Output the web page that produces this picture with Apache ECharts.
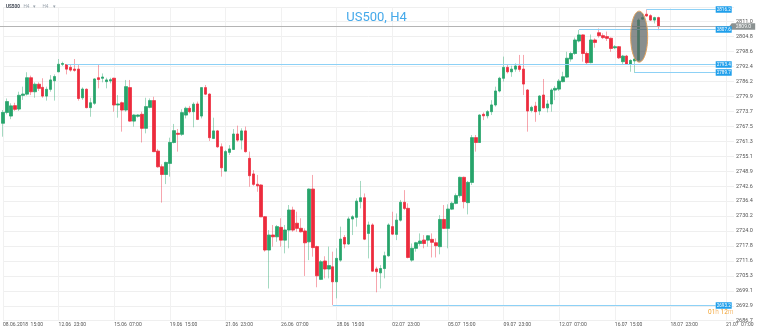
<!DOCTYPE html>
<html>
<head>
<meta charset="utf-8">
<script src="https://cdn.jsdelivr.net/npm/echarts@6/dist/echarts.min.js"></script>
<style>
  html, body { margin: 0; padding: 0; background: #ffffff; }
  #chart { width: 760px; height: 331px; }
</style>
</head>
<body>
<div id="chart"></div>
<script>
// US500, 4-hour candles
const symbol = 'US500';
const timeframe = 'H4';

// time labels, one every 14 bars
const xTickLabels = [
  '08.06.2018  15:00', '12.06  23:00', '15.06  07:00', '19.06  15:00',
  '21.06  23:00', '26.06  07:00', '28.06  15:00', '02.07  23:00',
  '05.07  15:00', '09.07  23:00', '12.07  07:00', '16.07  15:00',
  '18.07  23:00', '21.07  07:00'
];
const barsPerLabel = 14;
const slotCount = 185; // drawn bars plus empty future slots

// price scale labels, bottom to top
const yTickLabels = [
  '2686.7', '2692.9', '2699.1', '2705.3', '2711.6', '2717.8', '2724.0',
  '2730.2', '2736.4', '2742.6', '2748.9', '2755.1', '2761.3', '2767.5',
  '2773.7', '2779.9', '2786.2', '2792.4', '2798.6', '2804.8', '2811.0'
];
const priceMin = 2686.7;
const priceStep = 6.215;
const priceMax = 2817.0;

// [open, close, low, high]
const ohlc = [
  [2768.8, 2773.3, 2763.2, 2774.3], [2773.3, 2777.8, 2772.5, 2779.1],
  [2771.8, 2776.0, 2770.5, 2777.1], [2776.1, 2774.6, 2773.9, 2777.3],
  [2774.7, 2780.4, 2773.9, 2781.9], [2780.4, 2780.9, 2778.5, 2784.0],
  [2780.9, 2787.7, 2780.3, 2790.0], [2787.7, 2781.9, 2780.5, 2788.6],
  [2781.9, 2785.0, 2779.4, 2785.8], [2785.0, 2783.3, 2782.2, 2785.8],
  [2783.7, 2780.1, 2779.4, 2787.5], [2780.1, 2782.9, 2778.2, 2784.0],
  [2782.9, 2786.8, 2781.9, 2788.8], [2786.5, 2788.2, 2778.2, 2789.1],
  [2790.2, 2793.3, 2790.0, 2795.5], [2793.3, 2793.6, 2792.6, 2794.4],
  [2793.2, 2791.3, 2789.1, 2793.4], [2792.0, 2790.9, 2790.2, 2793.3],
  [2791.3, 2790.8, 2790.2, 2795.5], [2791.3, 2779.1, 2778.2, 2793.0],
  [2779.4, 2783.0, 2778.5, 2783.7], [2782.9, 2775.3, 2775.0, 2783.3],
  [2775.3, 2777.3, 2771.5, 2779.4], [2777.1, 2787.2, 2776.4, 2787.5],
  [2787.7, 2787.0, 2783.3, 2793.3], [2787.5, 2788.0, 2785.8, 2789.5],
  [2786.1, 2786.8, 2783.3, 2787.7], [2786.4, 2786.9, 2785.4, 2787.7],
  [2787.5, 2776.4, 2773.6, 2787.7], [2776.4, 2776.8, 2771.1, 2780.5],
  [2777.3, 2774.3, 2765.3, 2777.8], [2774.3, 2784.0, 2773.6, 2786.8],
  [2783.6, 2769.7, 2769.5, 2786.8], [2769.7, 2772.2, 2767.4, 2772.5],
  [2771.7, 2772.2, 2771.1, 2772.5], [2772.5, 2766.7, 2760.8, 2773.6],
  [2766.7, 2775.7, 2764.6, 2779.4], [2775.4, 2778.2, 2775.0, 2779.1],
  [2778.2, 2757.0, 2756.8, 2779.8], [2757.2, 2750.7, 2750.3, 2758.1],
  [2750.7, 2747.5, 2735.8, 2751.7], [2747.5, 2752.5, 2743.5, 2752.8],
  [2752.1, 2760.8, 2746.6, 2762.8], [2760.8, 2765.7, 2760.4, 2768.5],
  [2764.6, 2764.2, 2757.0, 2766.4], [2764.2, 2773.2, 2763.5, 2774.6],
  [2772.2, 2775.0, 2770.8, 2775.7], [2775.0, 2773.6, 2772.9, 2776.0],
  [2773.6, 2776.7, 2767.1, 2777.5], [2776.8, 2770.4, 2770.1, 2777.8],
  [2771.8, 2783.6, 2770.8, 2783.7], [2783.6, 2780.9, 2780.5, 2784.7],
  [2780.9, 2762.8, 2761.4, 2781.2], [2762.5, 2765.6, 2762.2, 2771.1],
  [2765.6, 2759.0, 2758.6, 2766.0], [2759.0, 2750.3, 2746.6, 2760.4],
  [2748.9, 2757.0, 2748.7, 2757.7], [2756.7, 2758.1, 2755.6, 2759.7],
  [2757.9, 2764.3, 2757.7, 2766.4], [2764.3, 2761.8, 2761.1, 2767.8],
  [2761.8, 2765.6, 2757.9, 2766.7], [2765.6, 2757.0, 2756.6, 2767.4],
  [2754.2, 2747.0, 2742.4, 2757.0], [2747.7, 2743.4, 2742.8, 2749.3],
  [2743.4, 2742.8, 2740.3, 2747.3], [2743.1, 2729.9, 2729.8, 2743.4],
  [2729.9, 2716.1, 2715.4, 2730.2], [2716.1, 2722.3, 2700.1, 2724.4],
  [2722.3, 2721.6, 2717.5, 2726.5], [2721.6, 2725.8, 2719.5, 2726.5],
  [2725.5, 2720.2, 2717.5, 2729.3], [2720.2, 2724.4, 2714.7, 2726.5],
  [2724.4, 2732.7, 2716.8, 2734.8], [2732.7, 2724.4, 2723.7, 2734.1],
  [2727.2, 2725.1, 2723.7, 2732.0], [2725.1, 2723.7, 2723.4, 2729.3],
  [2724.0, 2719.1, 2705.3, 2725.1], [2719.5, 2741.4, 2711.9, 2741.7],
  [2741.4, 2717.1, 2713.3, 2747.3], [2717.5, 2705.4, 2700.6, 2717.9],
  [2703.9, 2711.2, 2703.6, 2711.9], [2711.5, 2708.2, 2704.3, 2713.5],
  [2708.2, 2709.6, 2704.3, 2717.5], [2709.1, 2702.9, 2693.2, 2715.4],
  [2702.9, 2712.6, 2696.0, 2716.8], [2711.9, 2720.6, 2711.2, 2725.8],
  [2721.3, 2718.6, 2716.8, 2722.3], [2718.6, 2729.0, 2718.2, 2729.9],
  [2729.0, 2729.9, 2722.3, 2730.6], [2729.7, 2736.4, 2725.8, 2737.6],
  [2736.2, 2737.8, 2733.4, 2744.8], [2737.8, 2720.6, 2720.2, 2739.6],
  [2723.0, 2726.5, 2712.6, 2727.9], [2726.5, 2707.3, 2707.1, 2727.2],
  [2708.2, 2707.1, 2698.5, 2709.1], [2706.6, 2708.4, 2700.1, 2709.8],
  [2708.4, 2713.7, 2704.3, 2715.4], [2713.7, 2726.5, 2713.3, 2727.2],
  [2725.8, 2722.7, 2722.3, 2732.0], [2722.6, 2728.5, 2720.2, 2731.3],
  [2728.5, 2735.9, 2727.9, 2736.9], [2735.9, 2733.4, 2732.7, 2741.0],
  [2733.4, 2713.0, 2712.6, 2735.5], [2711.9, 2716.8, 2711.2, 2718.8],
  [2716.8, 2719.1, 2715.4, 2719.5], [2718.8, 2719.8, 2717.9, 2723.0],
  [2720.2, 2718.8, 2716.8, 2722.3], [2720.2, 2722.0, 2717.5, 2722.3],
  [2720.5, 2719.3, 2713.0, 2723.0], [2719.1, 2717.9, 2713.0, 2720.9],
  [2717.5, 2728.8, 2714.3, 2730.6], [2728.8, 2725.1, 2724.8, 2734.8],
  [2725.1, 2733.1, 2716.8, 2735.1], [2733.1, 2735.5, 2732.7, 2736.2],
  [2735.5, 2738.7, 2735.1, 2739.6], [2738.7, 2746.3, 2737.8, 2746.6],
  [2746.3, 2736.2, 2733.4, 2746.6], [2735.8, 2744.2, 2730.9, 2744.8],
  [2744.2, 2762.8, 2743.1, 2763.9], [2762.8, 2760.8, 2757.0, 2763.9],
  [2760.8, 2772.2, 2760.6, 2772.5], [2772.5, 2771.9, 2770.1, 2773.3],
  [2771.9, 2773.6, 2770.8, 2774.3], [2773.6, 2776.4, 2772.2, 2778.4],
  [2776.4, 2782.2, 2775.7, 2784.0], [2782.2, 2787.5, 2781.6, 2788.1],
  [2787.5, 2792.0, 2786.1, 2796.5], [2792.0, 2790.2, 2789.5, 2793.0],
  [2790.2, 2791.3, 2788.1, 2792.7], [2791.3, 2792.6, 2790.2, 2793.7],
  [2792.6, 2791.2, 2790.2, 2797.2], [2791.3, 2785.1, 2780.5, 2797.2],
  [2782.6, 2773.9, 2765.3, 2783.0], [2774.1, 2775.4, 2773.3, 2776.1],
  [2775.9, 2773.6, 2769.4, 2777.7], [2773.9, 2780.1, 2772.2, 2780.5],
  [2780.5, 2775.2, 2775.0, 2787.2], [2775.2, 2776.8, 2773.3, 2778.4],
  [2776.8, 2782.6, 2773.6, 2783.3], [2782.6, 2783.3, 2778.4, 2784.3],
  [2783.0, 2786.3, 2782.2, 2787.2], [2786.1, 2788.1, 2785.8, 2790.2],
  [2788.0, 2795.8, 2787.7, 2798.5], [2795.5, 2797.8, 2794.4, 2798.5],
  [2797.8, 2803.4, 2797.2, 2804.4], [2803.0, 2805.5, 2802.4, 2807.6],
  [2805.5, 2797.8, 2794.4, 2805.7], [2797.8, 2794.0, 2793.3, 2798.5],
  [2794.0, 2803.4, 2793.7, 2805.7], [2803.4, 2802.4, 2800.2, 2804.1],
  [2806.4, 2805.2, 2804.4, 2808.2], [2805.2, 2804.4, 2803.8, 2806.2],
  [2804.8, 2804.1, 2803.0, 2806.9], [2804.1, 2799.9, 2798.5, 2804.4],
  [2800.2, 2800.6, 2799.6, 2801.3], [2800.6, 2796.0, 2795.5, 2800.9],
  [2794.4, 2796.7, 2793.0, 2797.2], [2796.7, 2793.3, 2793.0, 2797.2],
  [2793.3, 2794.9, 2790.2, 2795.4], [2794.7, 2795.5, 2789.7, 2796.0],
  [2795.1, 2811.7, 2794.7, 2812.4], [2812.1, 2812.7, 2811.7, 2814.5],
  [2814.1, 2813.4, 2813.1, 2816.2], [2813.5, 2811.7, 2811.3, 2814.1],
  [2811.7, 2812.7, 2810.3, 2813.1], [2812.7, 2809.0, 2807.5, 2813.1]
];

// support / resistance levels: bar where each starts and its price
const levelIndex = [16, 83, 145, 159, 162];
const levelPrice = [2793.4, 2693.2, 2807.6, 2789.7, 2816.2];
const lastPrice = 2809.0;
const highlightIndex = 160;
const countdownParts = ['01', 'h ', '12', 'm'];

const UP = '#27a46b';
const DOWN = '#ec2b3d';
const UP_WICK = 'rgba(39,164,107,0.42)';
const DOWN_WICK = 'rgba(236,43,61,0.42)';
const LEVEL = '#8dd1f6';
const TAG = '#1f9feb';
const FONT = 'Roboto, "Noto Sans", sans-serif';

const slots = Array.from({ length: slotCount }, (_, i) => String(i));
const bodies = ohlc.map(([o, c]) => [o, c, Math.min(o, c), Math.max(o, c)]);

const chart = echarts.init(document.getElementById('chart'), null, { renderer: 'canvas' });

chart.setOption({
  animation: false,
  backgroundColor: '#ffffff',
  grid: { left: 3, right: 26, top: 7.3, bottom: 10.3, containLabel: false },
  xAxis: {
    type: 'category',
    data: slots,
    boundaryGap: false,
    axisLine: { show: false },
    axisTick: { show: false },
    axisLabel: {
      interval: barsPerLabel - 1,
      align: 'left',
      margin: 1.5,
      fontSize: 5,
      fontFamily: FONT,
      color: '#555555',
      formatter: (v, idx) => xTickLabels[Math.round(idx / barsPerLabel)] || ''
    },
    splitLine: {
      show: true,
      interval: barsPerLabel - 1,
      lineStyle: { color: '#f1f1f1', width: 1 }
    }
  },
  yAxis: {
    type: 'value',
    position: 'right',
    min: priceMin,
    max: priceMax,
    interval: priceStep,
    scale: true,
    axisLine: { show: false },
    axisTick: { show: false },
    axisLabel: {
      margin: 2,
      fontSize: 5.5,
      fontFamily: FONT,
      color: '#555555',
      showMaxLabel: false,
      formatter: (v, idx) => yTickLabels[idx] || ''
    },
    splitLine: { show: true, lineStyle: { color: '#efefef', width: 1 } }
  },
  series: [
    {
      name: 'wick',
      type: 'candlestick',
      data: ohlc,
      barWidth: 3,
      itemStyle: {
        color: 'rgba(0,0,0,0)', color0: 'rgba(0,0,0,0)',
        borderColor: UP_WICK, borderColor0: DOWN_WICK, borderWidth: 1
      },
      silent: true
    },
    {
      name: symbol,
      type: 'candlestick',
      data: bodies,
      barWidth: 3,
      itemStyle: {
        color: UP, color0: DOWN,
        borderColor: UP, borderColor0: DOWN, borderWidth: 0.6
      },
      silent: true
    }
  ]
});

// overlays positioned from data through the chart's own scales
function toPx(i, price) {
  return chart.convertToPixel({ xAxisIndex: 0, yAxisIndex: 0 }, [i, price]);
}
const crisp = v => Math.round(v - 0.5) + 0.5;

const gridLeftX = toPx(0, priceMin)[0];
const gridRightX = toPx(slotCount - 1, priceMin)[0];
const tagW = 16, tagH = 6.5;
const tagLeft = gridRightX - 18.3;

const overlay = [];

// current price line and its callout
const lastY = crisp(toPx(0, lastPrice)[1]);
overlay.push({
  type: 'line', z: 50,
  shape: { x1: 0, y1: lastY, x2: gridRightX - 4, y2: lastY },
  style: { stroke: '#b4b4b4', lineWidth: 1 }
});
const calloutL = gridRightX - 2.3;
overlay.push({
  type: 'polygon', z: 60,
  shape: { points: [[calloutL - 2.5, lastY], [calloutL, lastY - 3.2], [calloutL + 23.5, lastY - 3.2], [calloutL + 23.5, lastY + 3.2], [calloutL, lastY + 3.2]] },
  style: { fill: '#8b9292' }
});
overlay.push({
  type: 'text', z: 61,
  x: calloutL + 11.7, y: lastY + 0.3,
  style: { text: lastPrice.toFixed(1), fill: '#ffffff', fontSize: 5, fontFamily: FONT, align: 'center', verticalAlign: 'middle' }
});

// level lines and tags
levelIndex.forEach((idx, k) => {
  const [x0, yRaw] = toPx(idx, levelPrice[k]);
  const y = crisp(yRaw);
  overlay.push({
    type: 'line', z: 40,
    shape: { x1: x0, y1: y, x2: tagLeft, y2: y },
    style: { stroke: LEVEL, lineWidth: 1 }
  });
  overlay.push({
    type: 'rect', z: 60,
    shape: { x: tagLeft, y: y - tagH / 2, width: tagW, height: tagH },
    style: { fill: TAG }
  });
  overlay.push({
    type: 'text', z: 61,
    x: tagLeft + tagW / 2, y: y + 0.3,
    style: { text: levelPrice[k].toFixed(1), fill: '#ffffff', fontSize: 4.6, fontFamily: FONT, align: 'center', verticalAlign: 'middle' }
  });
});

// highlighted breakout candle
const hc = ohlc[highlightIndex];
const [hx, hTop] = toPx(highlightIndex, hc[3]);
const hBottom = toPx(highlightIndex, hc[2])[1];
overlay.push({
  type: 'ellipse', z: 70,
  shape: { cx: hx + 0.5, cy: (hTop + hBottom) / 2 - 3, rx: 8.5, ry: (hBottom - hTop) / 2 + 4.2 },
  style: { fill: 'rgba(92,98,98,0.72)', stroke: '#e3a25c', lineWidth: 1 }
});

// title
overlay.push({
  type: 'text', z: 80,
  x: 376.5, y: 17.3,
  style: { text: symbol + ', ' + timeframe, fill: '#45a9ea', fontSize: 13, fontFamily: FONT, align: 'center', verticalAlign: 'middle' }
});

// symbol / timeframe selector
overlay.push({
  type: 'text', z: 80, x: 6, y: 7.2,
  style: { text: symbol, fill: '#3d4450', fontSize: 4.6, fontWeight: 'bold', fontFamily: FONT, verticalAlign: 'middle' }
});
overlay.push({
  type: 'text', z: 80, x: 23.5, y: 7.2,
  style: { text: timeframe + '   \u25BE', fill: '#9aa3ad', fontSize: 4.6, fontFamily: FONT, verticalAlign: 'middle' }
});
overlay.push({
  type: 'text', z: 80, x: 42.5, y: 7.2,
  style: { text: timeframe + '    \u25BE', fill: '#9aa3ad', fontSize: 4.6, fontFamily: FONT, verticalAlign: 'middle' }
});

// time left in the current bar
overlay.push({
  type: 'text', z: 80, x: gridRightX - 26, y: 312.2,
  style: {
    text: '{n|' + countdownParts[0] + '}{u|' + countdownParts[1] + '}{n|' + countdownParts[2] + '}{u|' + countdownParts[3] + '}',
    verticalAlign: 'middle',
    rich: {
      n: { fill: '#f3a431', fontSize: 6.5, fontFamily: FONT },
      u: { fill: '#f6bf7a', fontSize: 6.5, fontFamily: FONT }
    }
  }
});

chart.setOption({ graphic: overlay });
</script>
</body>
</html>
